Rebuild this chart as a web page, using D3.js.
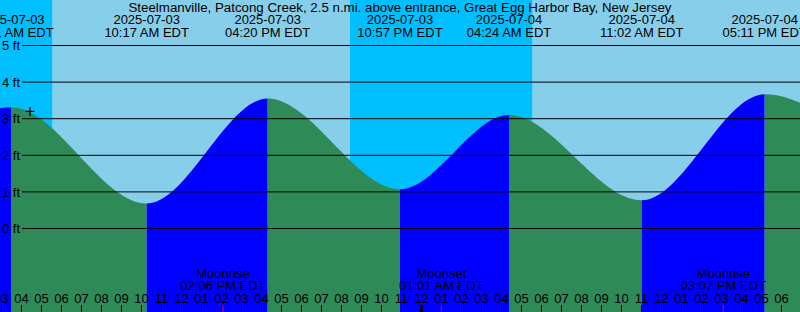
<!DOCTYPE html>
<html><head><meta charset="utf-8">
<script src="https://cdn.jsdelivr.net/npm/d3@7"></script>
<style>
body{margin:0;padding:0;overflow:hidden;background:#fff}
svg{display:block;font-family:"Liberation Sans",Arial,sans-serif}
</style></head><body>
<script>
// ---- data ----
const title = "Steelmanville, Patcong Creek, 2.5 n.mi. above entrance, Great Egg Harbor Bay, New Jersey";
const tideTimes = ["2025-07-02T21:10","2025-07-03T03:31","2025-07-03T10:17","2025-07-03T16:20","2025-07-03T22:57","2025-07-04T04:24","2025-07-04T11:02","2025-07-04T17:11","2025-07-04T23:40"];
const tideHeights = [1.1, 3.31, 0.68, 3.55, 1.07, 3.10, 0.77, 3.67, 1.35];
const sunTimes = ["2025-07-03T05:35","2025-07-03T20:27","2025-07-04T05:35"];
const moonTimes = ["2025-07-03T14:06","2025-07-04T01:01","2025-07-04T15:07"];
const moonLabels = ["Moonrise","Moonset","Moonrise"];
const yTicks = [0,1,2,3,4,5];
const nowTime = "2025-07-03T04:27";
const nowHeight = 3.2;
const domainStart = "2025-07-03T02:57", domainEnd = "2025-07-04T18:57";

// ---- setup ----
const W = 800, H = 312, FS = 13;
const parse = d3.timeParse("%Y-%m-%dT%H:%M");
const x = d3.scaleTime().domain([parse(domainStart), parse(domainEnd)]).range([0, W]);
const y = d3.scaleLinear().domain([0,5]).range([228.5, 45.5]);
const fmtDate = d3.timeFormat("%Y-%m-%d"), fmtTime = d3.timeFormat("%I:%M %p EDT");

const svg = d3.select("body").append("svg").attr("width", W).attr("height", H);

// background day/night bands
const sun = sunTimes.map(parse);
const bands = [
  {a: x.domain()[0], b: sun[0], c: "#00BFFF"},
  {a: sun[0], b: sun[1], c: "#87CEEB"},
  {a: sun[1], b: sun[2], c: "#00BFFF"},
  {a: sun[2], b: x.domain()[1], c: "#87CEEB"}
];
svg.selectAll("rect.band").data(bands).enter().append("rect")
  .attr("x", d => x(d.a)).attr("y", 0)
  .attr("width", d => x(d.b) - x(d.a)).attr("height", H).attr("fill", d => d.c);

// tide area
const tide = tideTimes.map((t,i) => ({t: parse(t), h: tideHeights[i]}));
const area = d3.area().x(d => x(d.t)).y0(H).y1(d => y(d.h)).curve(d3.curveMonotoneX);
svg.append("clipPath").attr("id","tideclip").append("path").attr("d", area(tide));
const segs = d3.pairs(tide);
svg.append("g").attr("clip-path","url(#tideclip)")
  .selectAll("rect").data(segs).enter().append("rect")
  .attr("x", d => x(d[0].t)).attr("y", 0)
  .attr("width", d => x(d[1].t) - x(d[0].t)).attr("height", H)
  .attr("fill", d => d[1].h > d[0].h ? "#0000FF" : "#2E8B57");

// grid lines + labels
svg.selectAll("line.grid").data(yTicks).enter().append("line")
  .attr("x1", 22).attr("x2", W).attr("y1", d => y(d)).attr("y2", d => y(d))
  .attr("stroke", "#000").attr("stroke-width", 1);
svg.selectAll("text.ylab").data(yTicks).enter().append("text")
  .attr("x", 2).attr("y", d => y(d) + 4.6).attr("font-size", FS).attr("fill", "#000")
  .text(d => d + " ft");

// title
svg.append("text").attr("x", 400).attr("y", 12).attr("text-anchor","middle")
  .attr("font-size", 13.3).text(title);

// tide event labels
const vis = tide.filter(d => x(d.t) > -50 && x(d.t) < W + 50);
const ev = svg.append("g").attr("font-size", FS).attr("text-anchor","middle");
ev.selectAll("text.d").data(vis).enter().append("text")
  .attr("x", d => x(d.t)).attr("y", 24).text(d => fmtDate(d.t));
ev.selectAll("text.t").data(vis).enter().append("text")
  .attr("x", d => x(d.t)).attr("y", 37).text(d => fmtTime(d.t));

// hour axis
const axis = d3.axisTop(x).ticks(d3.timeHour.every(1)).tickFormat(d3.timeFormat("%I"))
  .tickSize(7).tickPadding(2.5);
const ag = svg.append("g").attr("transform", `translate(0,${H})`).call(axis);
ag.select(".domain").remove();
ag.selectAll("text").attr("font-size", FS).attr("font-family", '"Liberation Sans",Arial,sans-serif').attr("fill","#000");
ag.selectAll(".tick line").attr("stroke","#000")
  .attr("stroke-width", d => d.getHours() === 0 ? 3 : 1);

// moon events
const moon = moonTimes.map((t,i) => ({t: parse(t), label: moonLabels[i]}));
svg.selectAll("line.moon").data(moon).enter().append("line")
  .attr("x1", d => x(d.t)).attr("x2", d => x(d.t)).attr("y1", 305).attr("y2", H)
  .attr("stroke", "#FF0000").attr("stroke-width", 1);
const mg = svg.append("g").attr("font-size", FS).attr("text-anchor","middle").attr("fill","#000");
mg.selectAll("text.ml").data(moon).enter().append("text")
  .attr("x", d => x(d.t)).attr("y", 278.3).text(d => d.label);
mg.selectAll("text.mt").data(moon).enter().append("text")
  .attr("x", d => x(d.t)).attr("y", 289.5).text(d => fmtTime(d.t));

// current time marker
const nx = x(parse(nowTime)), ny = y(nowHeight);
svg.append("line").attr("x1", nx-4.5).attr("x2", nx+4.5).attr("y1", ny).attr("y2", ny).attr("stroke","#000").attr("stroke-width",1.3);
svg.append("line").attr("x1", nx).attr("x2", nx).attr("y1", ny-4.5).attr("y2", ny+4.5).attr("stroke","#000").attr("stroke-width",1.3);
</script>
</body></html>
